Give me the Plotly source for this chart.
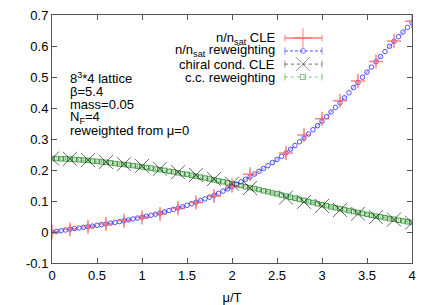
import plotly.graph_objects as go

# ---- data ----
mu_cle = [0.0, 0.2, 0.4, 0.6, 0.8, 1.0, 1.2, 1.4, 1.6, 1.8, 2.0, 2.2, 2.6, 2.8, 3.0, 3.2, 3.4, 3.6, 3.8, 4.0]
n_cle = [0.000, 0.009, 0.016, 0.026, 0.036, 0.047, 0.058, 0.077, 0.095, 0.116, 0.150, 0.186, 0.255, 0.313, 0.365, 0.423, 0.487, 0.550, 0.616, 0.680]
n_cle_err = [0.004, 0.015, 0.015, 0.015, 0.015, 0.015, 0.015, 0.015, 0.015, 0.015, 0.015, 0.015, 0.012, 0.010, 0.010, 0.010, 0.008, 0.008, 0.008, 0.008]
cc_cle = [0.237, 0.236, 0.232, 0.226, 0.219, 0.213, 0.204, 0.193, 0.184, 0.171, 0.156, 0.142, 0.111, 0.097, 0.084, 0.071, 0.059, 0.048, 0.040, 0.030]

mu_rw = [0.00, 0.05, 0.10, 0.15, 0.20, 0.25, 0.30, 0.35, 0.40, 0.45, 0.50, 0.55, 0.60, 0.65, 0.70, 0.75,
         0.80, 0.85, 0.90, 0.95, 1.00, 1.05, 1.10, 1.15, 1.20, 1.25, 1.30, 1.35, 1.40, 1.45, 1.50, 1.55,
         1.60, 1.65, 1.70, 1.75, 1.80, 1.85, 1.90, 1.95, 2.00, 2.05, 2.10, 2.15, 2.20, 2.25, 2.30, 2.35,
         2.40, 2.45, 2.50, 2.55, 2.60, 2.65, 2.70, 2.75, 2.80, 2.85, 2.90, 2.95, 3.00, 3.05, 3.10, 3.15,
         3.20, 3.25, 3.30, 3.35, 3.40, 3.45, 3.50, 3.55, 3.60, 3.65, 3.70, 3.75, 3.80, 3.85, 3.90, 3.95, 4.00]
n_rw = [0.000, 0.002, 0.004, 0.0065, 0.009, 0.011, 0.013, 0.015, 0.017, 0.019, 0.0215, 0.024, 0.026, 0.0285, 0.031, 0.0335,
        0.036, 0.039, 0.042, 0.045, 0.048, 0.051, 0.054, 0.0575, 0.061, 0.065, 0.069, 0.073, 0.077, 0.0815, 0.086, 0.091,
        0.096, 0.1015, 0.107, 0.1125, 0.118, 0.125, 0.132, 0.139, 0.146, 0.154, 0.162, 0.170, 0.178, 0.187, 0.196, 0.205,
        0.214, 0.224, 0.234, 0.244, 0.255, 0.267, 0.279, 0.291, 0.303, 0.316, 0.330, 0.343, 0.357, 0.372, 0.387, 0.402,
        0.417, 0.433, 0.449, 0.466, 0.482, 0.499, 0.516, 0.532, 0.549, 0.566, 0.582, 0.599, 0.615, 0.630, 0.645, 0.660, 0.675]
cc_rw = [0.237, 0.237, 0.236, 0.236, 0.235, 0.234, 0.233, 0.232, 0.231, 0.229, 0.228, 0.226, 0.225, 0.223, 0.221, 0.219,
         0.218, 0.216, 0.214, 0.212, 0.210, 0.208, 0.206, 0.203, 0.201, 0.199, 0.196, 0.194, 0.191, 0.188, 0.186, 0.183,
         0.180, 0.177, 0.174, 0.171, 0.168, 0.165, 0.162, 0.159, 0.156, 0.153, 0.150, 0.146, 0.143, 0.140, 0.137, 0.133,
         0.130, 0.126, 0.123, 0.119, 0.116, 0.112, 0.109, 0.105, 0.102, 0.098, 0.095, 0.091, 0.088, 0.085, 0.081, 0.078,
         0.075, 0.072, 0.069, 0.066, 0.063, 0.060, 0.057, 0.054, 0.051, 0.049, 0.046, 0.043, 0.041, 0.038, 0.036, 0.033, 0.031]

x_ticks = [0, 0.5, 1, 1.5, 2, 2.5, 3, 3.5, 4]
x_ticklabels = ["0", "0.5", "1", "1.5", "2", "2.5", "3", "3.5", "4"]
y_ticks = [-0.1, 0, 0.1, 0.2, 0.3, 0.4, 0.5, 0.6, 0.7]
y_ticklabels = ["-0.1", "0", "0.1", "0.2", "0.3", "0.4", "0.5", "0.6", "0.7"]

legend_labels = ["n/n<sub>sat</sub> CLE", "n/n<sub>sat</sub> reweighting", "chiral cond. CLE", "c.c. reweighting"]
info_lines = ["8<sup>3</sup>*4 lattice", "β=5.4", "mass=0.05", "N<sub>F</sub>=4", "reweighted from μ=0"]

RED = "rgba(255,90,90,0.75)"
BLUE = "rgba(40,40,255,0.8)"
BLACK = "rgba(20,20,20,0.65)"
GREEN = "rgba(30,130,30,0.75)"
FONT = "Liberation Sans, Arial, sans-serif"
FS = 13

fig = go.Figure()

# c.c. reweighting
fig.add_trace(go.Scatter(x=mu_rw, y=cc_rw, mode="lines+markers",
                         line=dict(color="rgba(30,130,30,0.5)", width=1, dash="dot"),
                         marker=dict(symbol="square-open", size=4.5, color=GREEN, line=dict(width=1, color=GREEN)),
                         error_y=dict(type="constant", value=0.004, color="rgba(120,200,120,0.5)", thickness=1, width=2),
                         showlegend=False))
# n reweighting
fig.add_trace(go.Scatter(x=mu_rw, y=n_rw, mode="lines+markers",
                         line=dict(color="rgba(40,40,255,0.5)", width=1, dash="dash"),
                         marker=dict(symbol="circle-open", size=4.5, color=BLUE, line=dict(width=1, color=BLUE)),
                         showlegend=False))
# n CLE
fig.add_trace(go.Scatter(x=mu_cle, y=n_cle, mode="markers",
                         marker=dict(symbol="cross-thin", size=10, color=RED, line=dict(width=1.5, color=RED)),
                         error_y=dict(type="data", array=n_cle_err, color="rgba(255,120,120,0.5)", thickness=1.5, width=0),
                         showlegend=False))
# chiral cond CLE
fig.add_trace(go.Scatter(x=mu_cle, y=cc_cle, mode="markers",
                         marker=dict(symbol="x-thin", size=14, color=BLACK, line=dict(width=1, color=BLACK)),
                         showlegend=False))

# ---- custom legend on an overlay axis (0..1 within plot area) ----
rows_y = [0.907, 0.855, 0.802, 0.750]
sx = [0.647, 0.697, 0.75]
leg_styles = [
    dict(line=dict(color="rgba(255,90,90,0.6)", width=2), sym="cross-thin", size=14, col=RED, lw=1.5),
    dict(line=dict(color=BLUE, width=1, dash="3px,2px"), sym="circle-open", size=5, col=BLUE, lw=1),
    dict(line=dict(color=BLACK, width=1, dash="dot"), sym="x-thin", size=14, col=BLACK, lw=1),
    dict(line=dict(color="rgba(120,190,120,0.9)", width=1, dash="dot"), sym="square-open", size=5, col=GREEN, lw=1),
]
for yv, st in zip(rows_y, leg_styles):
    fig.add_trace(go.Scatter(x=sx, y=[yv] * 3, xaxis="x2", yaxis="y2", mode="lines+markers",
                             line=st["line"],
                             marker=dict(symbol=["line-ns", st["sym"], "line-ns"], size=[5, st["size"], 5],
                                         color=st["col"], line=dict(width=st["lw"], color=st["col"])),
                             showlegend=False, hoverinfo="skip"))

annotations = []
for yv, lab in zip(rows_y, legend_labels):
    annotations.append(dict(xref="x2", yref="y2", x=0.625, y=yv, text=lab, showarrow=False,
                            xanchor="right", yanchor="middle", font=dict(family=FONT, size=FS, color="black")))
info_y = [0.745, 0.692, 0.640, 0.587, 0.535]
for yv, t in zip(info_y, info_lines):
    annotations.append(dict(xref="x2", yref="y2", x=0.044, y=yv, text=t, showarrow=False,
                            xanchor="left", yanchor="middle", font=dict(family=FONT, size=FS, color="black")))

axis_common = dict(showline=True, linecolor="#555", linewidth=1, mirror="ticks", ticks="inside",
                   ticklen=5, tickcolor="#555", showgrid=False, zeroline=False, automargin=False,
                   tickfont=dict(family=FONT, size=FS, color="black"))

fig.update_layout(
    template="none",
    width=436, height=305,
    margin=dict(l=52, r=24, t=15, b=42),
    paper_bgcolor="white", plot_bgcolor="white",
    font=dict(family=FONT, size=FS, color="black"),
    xaxis=dict(range=[0, 4], tickvals=x_ticks, ticktext=x_ticklabels,
               title=dict(text="μ/T", font=dict(family=FONT, size=FS)), **axis_common),
    yaxis=dict(range=[-0.1, 0.7], tickvals=y_ticks, ticktext=y_ticklabels, **axis_common),
    xaxis2=dict(overlaying="x", range=[0, 1], visible=False, fixedrange=True),
    yaxis2=dict(overlaying="y", range=[0, 1], visible=False, fixedrange=True),
    annotations=annotations,
    showlegend=False,
)

fig.write_html("out.html", config={"displayModeBar": False},
               post_script="document.body.style.margin='0';document.body.style.overflow='hidden';")
